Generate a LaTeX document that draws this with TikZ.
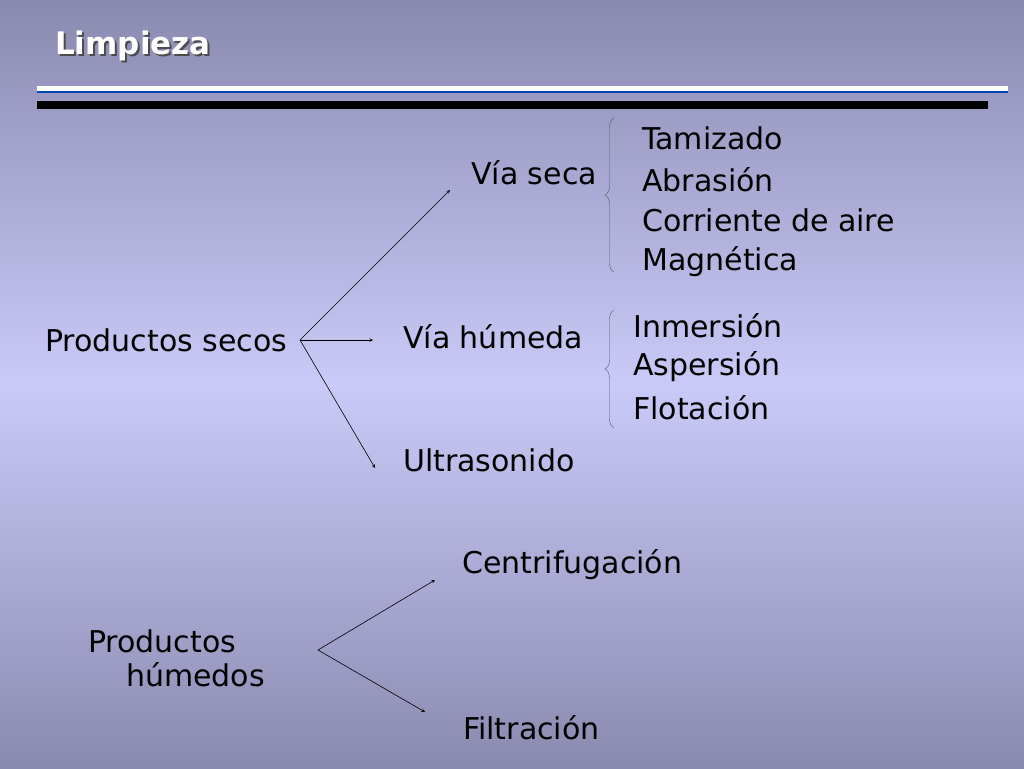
\documentclass[tikz,border=0pt]{standalone}
\usepackage{fontspec}
\setmainfont{DejaVu Sans}
\usetikzlibrary{decorations.pathreplacing}
\definecolor{bgA}{HTML}{8A8AB0}
\definecolor{bgB}{HTML}{CACAF8}
\begin{document}
\begin{tikzpicture}[x=1pt,y=-1pt,
  txt/.style={anchor=west,inner sep=0pt,font=\fontsize{30}{34}\selectfont,text=black},
  arr/.style={-stealth,semithick},
  br/.style={decorate,decoration={brace,amplitude=9pt,mirror},draw=gray!70!black,thin}]
\useasboundingbox (0,0) rectangle (1024,768);
\shade[top color=bgA,bottom color=bgB] (0,0) rectangle (1024,384);
\shade[top color=bgB,bottom color=bgA] (0,384) rectangle (1024,768);
\fill[white] (37,86) rectangle (1008,91);
\fill[blue!60!cyan!70!black] (37,91) rectangle (1008,93);
\fill[black] (37,101) rectangle (988,109);
\node[anchor=west,inner sep=0pt,font=\bfseries\fontsize{31}{34}\selectfont,text=black!70] at (57,48) {Limpieza};
\node (title) [anchor=west,inner sep=0pt,font=\bfseries\fontsize{31}{34}\selectfont,text=white] at (55,46) {Limpieza};
\node (ps) [txt] at (45,340) {Productos secos};
\node (vs) [txt] at (471,173) {Vía seca};
\node (vh) [txt] at (403,337) {Vía húmeda};
\node (us) [txt] at (403,460) {Ultrasonido};
\node (t1) [txt] at (642,138) {Tamizado};
\node (t2) [txt] at (642,180) {Abrasión};
\node (t3) [txt] at (642,220) {Corriente de aire};
\node (t4) [txt] at (642,262) {Magnética};
\node (h1) [txt] at (633,326) {Inmersión};
\node (h2) [txt] at (633,367) {Aspersión};
\node (h3) [txt] at (633,408) {Flotación};
\node (ce) [txt] at (462,565) {Centrifugación};
\node (ph) [anchor=west,inner sep=0pt,font=\fontsize{30}{34}\selectfont,align=left] at (88,658) {Productos\\\hspace*{38pt}húmedos};
\node (fi) [txt] at (463,728) {Filtración};
\coordinate (o1) at (300,340);
\coordinate (o2) at (318,650);
\coordinate (e1) at (450,190);
\coordinate (e2) at (373,340);
\coordinate (e3) at (375,468);
\coordinate (e4) at (435,580);
\coordinate (e5) at (425,712);
\draw[arr] (o1) -- (e1);
\draw[arr] (o1) -- (e2);
\draw[arr] (o1) -- (e3);
\draw[arr] (o2) -- (e4);
\draw[arr] (o2) -- (e5);
\coordinate (b1a) at (614,118); \coordinate (b1b) at (614,272);
\coordinate (b2a) at (614,310); \coordinate (b2b) at (614,428);
\draw[br] (b1a) -- (b1b);
\draw[br] (b2a) -- (b2b);
\end{tikzpicture}
\end{document}
